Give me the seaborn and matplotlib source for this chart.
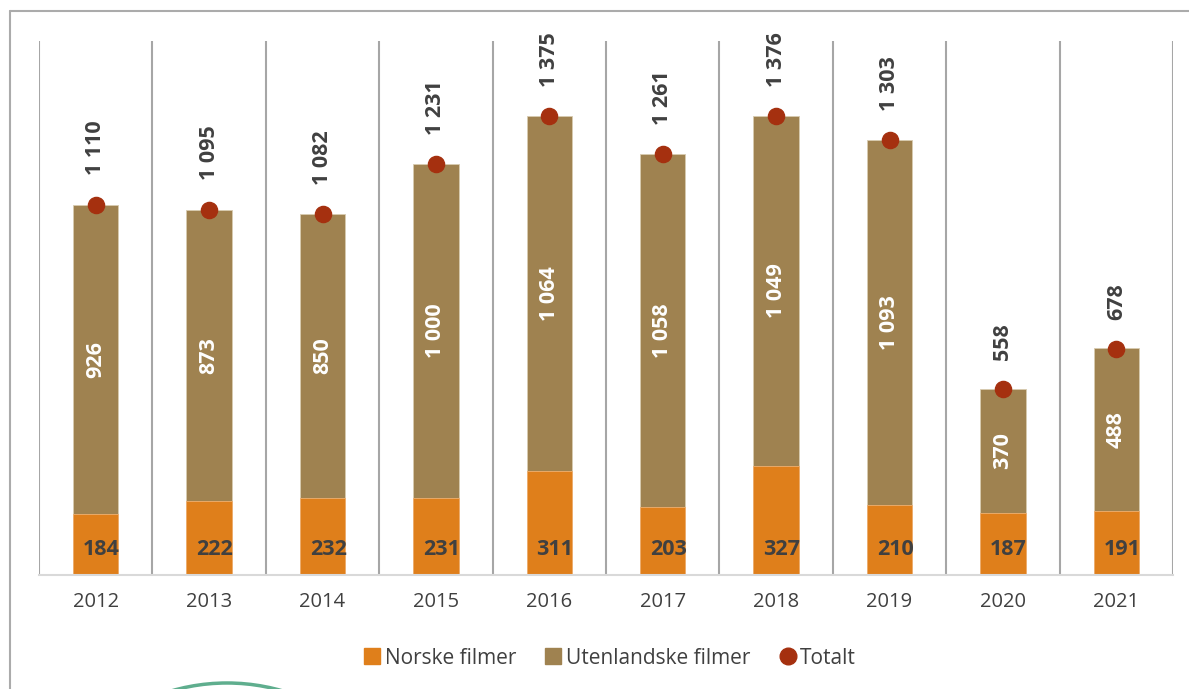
import numpy as np
import pandas as pd
import matplotlib
matplotlib.use("Agg")
import matplotlib.pyplot as plt
import seaborn as sns
from matplotlib.lines import Line2D
from matplotlib.patches import Arc

years = ["2012", "2013", "2014", "2015", "2016", "2017", "2018", "2019", "2020", "2021"]
norske = [184, 222, 232, 231, 311, 203, 327, 210, 187, 191]
utenlandske = [926, 873, 850, 1000, 1064, 1058, 1049, 1093, 370, 488]
totalt = [1110, 1095, 1082, 1231, 1375, 1261, 1376, 1303, 558, 678]

c_norsk = "#DF7F1B"
c_utl = "#9F8250"
c_tot = "#A5300F"
c_txt = "#404040"

df = pd.DataFrame({"year": years, "norske": norske, "utenlandske": utenlandske, "totalt": totalt})
df["stack"] = df["norske"] + df["utenlandske"]


def fmt(v):
    return f"{v:,}".replace(",", " ")


sns.set_style("white")
plt.rcParams["font.family"] = ["Open Sans", "DejaVu Sans"]

fig = plt.figure(figsize=(11.89, 6.89), dpi=100)
ax = fig.add_axes([39 / 1189, 1 - 575 / 689, (1173 - 39) / 1189, (575 - 41) / 689])

sns.barplot(data=df, x="year", y="stack", color=c_utl, width=0.4, saturation=1,
            edgecolor="#D8CBB0", linewidth=0.6, ax=ax)
sns.barplot(data=df, x="year", y="norske", color=c_norsk, width=0.4, saturation=1,
            edgecolor="#F0B070", linewidth=0.6, ax=ax)

pos = np.arange(len(years))
ax.scatter(pos, df["totalt"], s=135, color=c_tot, zorder=5)

for i, row in df.iterrows():
    ax.annotate(fmt(row["totalt"]), (i, row["totalt"]), xytext=(0, 21), textcoords="offset points",
                rotation=90, ha="center", va="bottom", fontsize=15.5, fontweight="bold", color=c_txt)
    ax.text(i, row["norske"] + row["utenlandske"] / 2, fmt(row["utenlandske"]), rotation=90,
            ha="center", va="center", fontsize=15.5, fontweight="bold", color="white")
    ax.text(i + 0.05, 75, fmt(row["norske"]), ha="center", va="center",
            fontsize=15.5, fontweight="bold", color=c_txt)

ax.set_xlim(-0.5, len(years) - 0.5)
ax.set_ylim(0, 1600)
ax.set_yticks([])
ax.set_xlabel("")
ax.set_ylabel("")
ax.tick_params(axis="x", length=0, pad=12, labelsize=14.5, labelcolor=c_txt)
for b in np.arange(-0.5, len(years), 1.0):
    ax.axvline(b, color="#A6A6A6", lw=1.5, zorder=0)
for s in ["top", "right", "left"]:
    ax.spines[s].set_visible(False)
ax.spines["bottom"].set_color("#D9D9D9")
ax.spines["bottom"].set_linewidth(1.5)

handles = [
    Line2D([], [], marker="s", linestyle="none", color=c_norsk, markersize=11),
    Line2D([], [], marker="s", linestyle="none", color=c_utl, markersize=11),
    Line2D([], [], marker="o", linestyle="none", color=c_tot, markersize=12),
]
fig.legend(handles, ["Norske filmer", "Utenlandske filmer", "Totalt"], loc="center",
           bbox_to_anchor=(610 / 1189, 1 - 658 / 689), ncol=3, frameon=False, fontsize=15,
           handlelength=0.8, handletextpad=0.2, columnspacing=1.4, labelcolor=c_txt)

# outer frame (left and top) and decorative arc
fig.add_artist(Line2D([10 / 1189, 10 / 1189], [0, 1 - 11 / 689], color="#ABABAB", lw=1.5))
fig.add_artist(Line2D([10 / 1189, 1], [1 - 11 / 689, 1 - 11 / 689], color="#ABABAB", lw=1.5))
arc = Arc((227 / 1189, 1 - 883 / 689), 400 / 1189, 400 / 689, theta1=77, theta2=103,
          color="#5FAE8E", lw=2.5, transform=fig.transFigure)
fig.add_artist(arc)

fig.savefig("out.png", dpi=100)
